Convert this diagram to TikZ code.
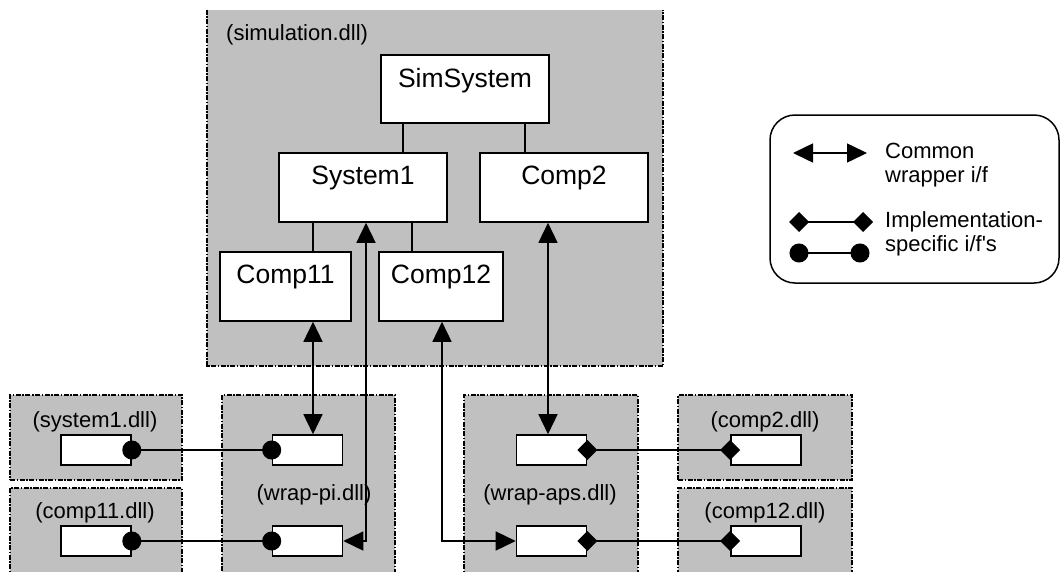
\documentclass[tikz,border=0pt]{standalone}
\usepackage{fontspec}
\setmainfont{Liberation Sans}
\usetikzlibrary{arrows.meta}
\definecolor{dllgray}{HTML}{C0C0C0}
\tikzset{
  dllborder/.style={draw=black, line width=1.6pt,
    dash pattern=on 5pt off 1.5pt on 1.5pt off 1.5pt},
  dllbox/.style={dllborder, fill=dllgray, inner sep=0pt},
  compbox/.style={draw=black, fill=white, line width=1.6pt, inner sep=0pt},
  portbox/.style={draw=black, fill=white, line width=1.6pt, inner sep=0pt,
    minimum width=70pt, minimum height=30pt},
  dlllabel/.style={font=\fontsize{22}{24}\selectfont, inner sep=0pt},
  toplabel/.style={anchor=north, inner sep=0pt, yshift=-14pt, font=\fontsize{26.5}{30}\selectfont},
  link/.style={line width=1.5pt},
  wrapif/.style={line width=1.5pt, {Triangle[length=20pt,width=19pt]}-{Triangle[length=20pt,width=19pt]}},
  circif/.style={line width=1.5pt, {Circle[length=19pt]}-{Circle[length=19pt]},
    shorten <=-9.5pt, shorten >=-9.5pt},
  diamif/.style={line width=1.5pt, {Diamond[length=20pt,width=20pt]}-{Diamond[length=20pt,width=20pt]},
    shorten <=-10pt, shorten >=-10pt},
  legendbox/.style={draw=black, line width=1.5pt, rounded corners=25pt, fill=white,
    minimum width=289pt, minimum height=168pt, inner sep=0pt},
}
\begin{document}
\begin{tikzpicture}[x=1pt, y=-1pt]
\useasboundingbox (0,0) rectangle (1060,571);
\clip (0,0) rectangle (1060,571);
\fill[white] (0,0) rectangle (1060,571);

% gray dll containers
\node[fill=dllgray, inner sep=0pt, minimum width=456pt, minimum height=356pt] (main) at (435,188) {};
\draw[dllborder] (main.north west) -- (main.south west) -- (main.south east) -- (main.north east);
\node[dllbox, minimum width=172pt, minimum height=85pt] (s1dll) at (96,437.5) {};
\node[dllbox, minimum width=172pt, minimum height=112pt] (c11dll) at (96,544) {};
\node[dllbox, minimum width=173pt, minimum height=205pt] (pidll) at (308.5,497.5) {};
\node[dllbox, minimum width=174pt, minimum height=205pt] (apsdll) at (551,497.5) {};
\node[dllbox, minimum width=174pt, minimum height=85pt] (c2dll) at (765,437.5) {};
\node[dllbox, minimum width=174pt, minimum height=112pt] (c12dll) at (765,544) {};

% container labels
\node[dlllabel, anchor=west] (lsim) at (226,35) {(simulation.dll)};
\node[dlllabel] (ls1) at (95,422) {(system1.dll)};
\node[dlllabel] (lc11) at (95,513) {(comp11.dll)};
\node[dlllabel] (lpi) at (314,495) {(wrap-pi.dll)};
\node[dlllabel] (laps) at (550,495) {(wrap-aps.dll)};
\node[dlllabel] (lc2) at (765,422) {(comp2.dll)};
\node[dlllabel] (lc12) at (765,513) {(comp12.dll)};

% components
\node[compbox, minimum width=168pt, minimum height=68pt,
  label={[toplabel]north:SimSystem}] (sim) at (465,89) {};
\node[compbox, minimum width=168pt, minimum height=69pt,
  label={[toplabel]north:System1}] (sys1) at (363,187.5) {};
\node[compbox, minimum width=168pt, minimum height=69pt,
  label={[toplabel]north:Comp2}] (comp2) at (564,187.5) {};
\node[compbox, minimum width=131pt, minimum height=69pt,
  label={[toplabel]north:Comp11}] (comp11) at (285.5,286.5) {};
\node[compbox, minimum width=124pt, minimum height=69pt,
  label={[toplabel]north:Comp12}] (comp12) at (441,286.5) {};

% ports
\node[portbox] (s1in) at (96,450) {};
\node[portbox] (c11in) at (96,541) {};
\node[portbox] (pi1) at (307.5,450) {};
\node[portbox] (pi2) at (307.5,541) {};
\node[portbox] (aps1) at (551.5,450) {};
\node[portbox] (aps2) at (551.5,541) {};
\node[portbox] (c2in) at (766,450) {};
\node[portbox] (c12in) at (766,541) {};

% x positions of vertical links
\coordinate (xa) at (403,0);
\coordinate (xb) at (525,0);
\coordinate (xc) at (313,0);
\coordinate (xd) at (412,0);
\coordinate (xs) at (366,0);
\coordinate (xt) at (442,0);
\coordinate (xu) at (548,0);

% hierarchy links
\draw[link] (sim.south -| xa) -- (sys1.north -| xa);
\draw[link] (sim.south -| xb) -- (comp2.north -| xb);
\draw[link] (sys1.south -| xc) -- (comp11.north -| xc);
\draw[link] (sys1.south -| xd) -- (comp12.north -| xd);

% common wrapper interfaces
\draw[wrapif] (comp11.south -| xc) -- (pi1.north -| xc);
\draw[wrapif] (sys1.south -| xs) -- (xs |- pi2.east) -- (pi2.east);
\draw[wrapif] (comp12.south -| xt) -- (xt |- aps2.west) -- (aps2.west);
\draw[wrapif] (comp2.south -| xu) -- (aps1.north -| xu);

% implementation-specific interfaces
\draw[circif] (s1in.east) -- (pi1.west);
\draw[circif] (c11in.east) -- (pi2.west);
\draw[diamif] (aps1.east) -- (c2in.west);
\draw[diamif] (aps2.east) -- (c12in.west);

% legend
\node[legendbox] (leg) at (914.5,199) {};
\coordinate (la1) at (793,153);
\coordinate (la2) at (867,153);
\coordinate (lb1) at (799,222);
\coordinate (lb2) at (863,222);
\coordinate (lc1) at (799,253);
\coordinate (lc2) at (860,253);
\draw[wrapif] (la1) -- (la2);
\draw[diamif] (lb1) -- (lb2);
\draw[circif] (lc1) -- (lc2);
\node[dlllabel, anchor=west, align=left] (lt1) at (885,165) {Common\\wrapper i/f};
\node[dlllabel, anchor=west, align=left] (lt2) at (885,234) {Implementation-\\specific i/f\textquotesingle s};
\end{tikzpicture}
\end{document}
